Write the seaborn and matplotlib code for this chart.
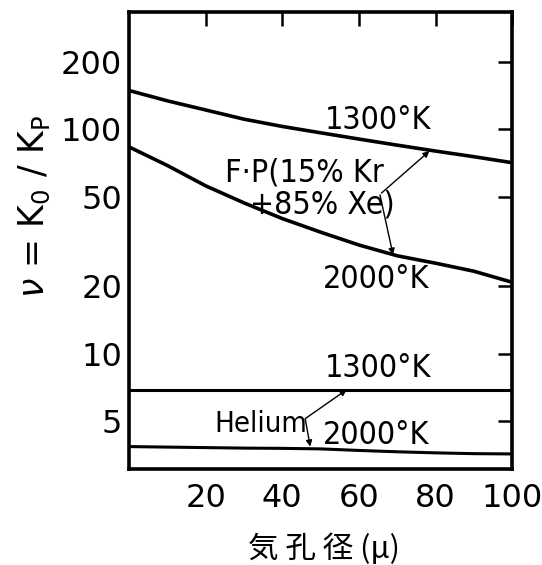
import numpy as np
import pandas as pd
import matplotlib
matplotlib.use("Agg")
import matplotlib.pyplot as plt
import seaborn as sns
from matplotlib.ticker import FixedLocator, NullLocator

# data
pore_um = [0, 10, 20, 30, 40, 50, 60, 70, 80, 90, 100]
fp_1300 = [149, 134, 122, 111, 103, 96.5, 90.5, 85, 80, 75.5, 71]
fp_2000 = [83.5, 69, 56, 47, 40, 34.8, 30.5, 27.3, 25.3, 23.3, 20.8]
he_1300 = [6.9, 6.9, 6.9, 6.9, 6.9, 6.9, 6.9, 6.9, 6.9, 6.9, 6.9]
he_2000 = [3.85, 3.83, 3.81, 3.79, 3.78, 3.76, 3.7, 3.65, 3.61, 3.58, 3.57]

y_ticks = [200, 100, 50, 20, 10, 5]
y_tick_labels = ['200', '100', '50', '20', '10', '5']
x_ticks = [20, 40, 60, 80, 100]
x_tick_labels = ['20', '40', '60', '80', '100']

series = {'fp_1300': fp_1300, 'fp_2000': fp_2000, 'he_1300': he_1300, 'he_2000': he_2000}
df = pd.concat([pd.DataFrame({'pore': pore_um, 'nu': v, 'curve': k}) for k, v in series.items()])

sns.set_style('white')
plt.rcParams['font.family'] = ['DejaVu Sans', 'Noto Sans CJK JP']
plt.rcParams['text.color'] = 'black'
plt.rcParams['axes.labelcolor'] = 'black'

fig = plt.figure(figsize=(5.42, 5.65), dpi=100)
ax = fig.add_axes([0.238, 0.170, 0.707, 0.809])

for name, lw in [('fp_1300', 2.6), ('fp_2000', 2.6), ('he_1300', 2.2), ('he_2000', 2.2)]:
    sns.lineplot(data=df[df['curve'] == name], x='pore', y='nu', color='black', lw=lw, ax=ax)

ax.set_yscale('log')
ax.set_xlim(0, 100)
ax.set_ylim(3.06, 334)
ax.yaxis.set_major_locator(FixedLocator(y_ticks))
ax.yaxis.set_minor_locator(NullLocator())
ax.set_yticklabels(y_tick_labels)
ax.xaxis.set_major_locator(FixedLocator(x_ticks))
ax.set_xticklabels(x_tick_labels)
ax.tick_params(axis='both', which='major', direction='in', length=10, width=1.8,
               labelsize=23, top=True, right=True, color='black', labelcolor='black')
ax.tick_params(axis='x', pad=10)
ax.tick_params(axis='y', pad=5)
for sp in ax.spines.values():
    sp.set_visible(True)
    sp.set_color('black')
    sp.set_linewidth(2.6)

ax.set_xlabel('気 孔 径 (μ)', fontsize=22, family=['Noto Sans CJK JP', 'DejaVu Sans'])
ax.set_ylabel(r'$\nu$ = K$_0$ / K$_\mathrm{P}$', fontsize=25)
ax.yaxis.set_label_coords(-0.2, 0.575)
ax.xaxis.set_label_coords(0.51, -0.14)

tk = dict(fontsize=23, color='black', ha='center', va='center', fontstretch='condensed')
ax.text(65, 110, '1300°K', **tk)
ax.text(64.5, 21.3, '2000°K', **tk)
ax.text(65, 8.6, '1300°K', **tk)
ax.text(64.5, 4.3, '2000°K', **tk)
ax.text(45.7, 64, 'F·P(15% Kr', **tk)
ax.text(50.4, 46, '+85% Xe)', **tk)
ax.text(34.3, 4.87, 'Helium', fontsize=21, color='black', ha='center', va='center', fontstretch='condensed')

arw = dict(arrowstyle='-|>', color='black', lw=1.0, mutation_scale=9, shrinkA=0, shrinkB=0)
ax.annotate('', xy=(78.4, 80), xytext=(65.9, 52), arrowprops=arw)
ax.annotate('', xy=(68.9, 27.6), xytext=(65.5, 51), arrowprops=arw)
ax.annotate('', xy=(56.8, 6.9), xytext=(46, 5.13), arrowprops=arw)
ax.annotate('', xy=(47.3, 3.85), xytext=(46, 5.1), arrowprops=arw)

fig.savefig('out.png', dpi=100)
